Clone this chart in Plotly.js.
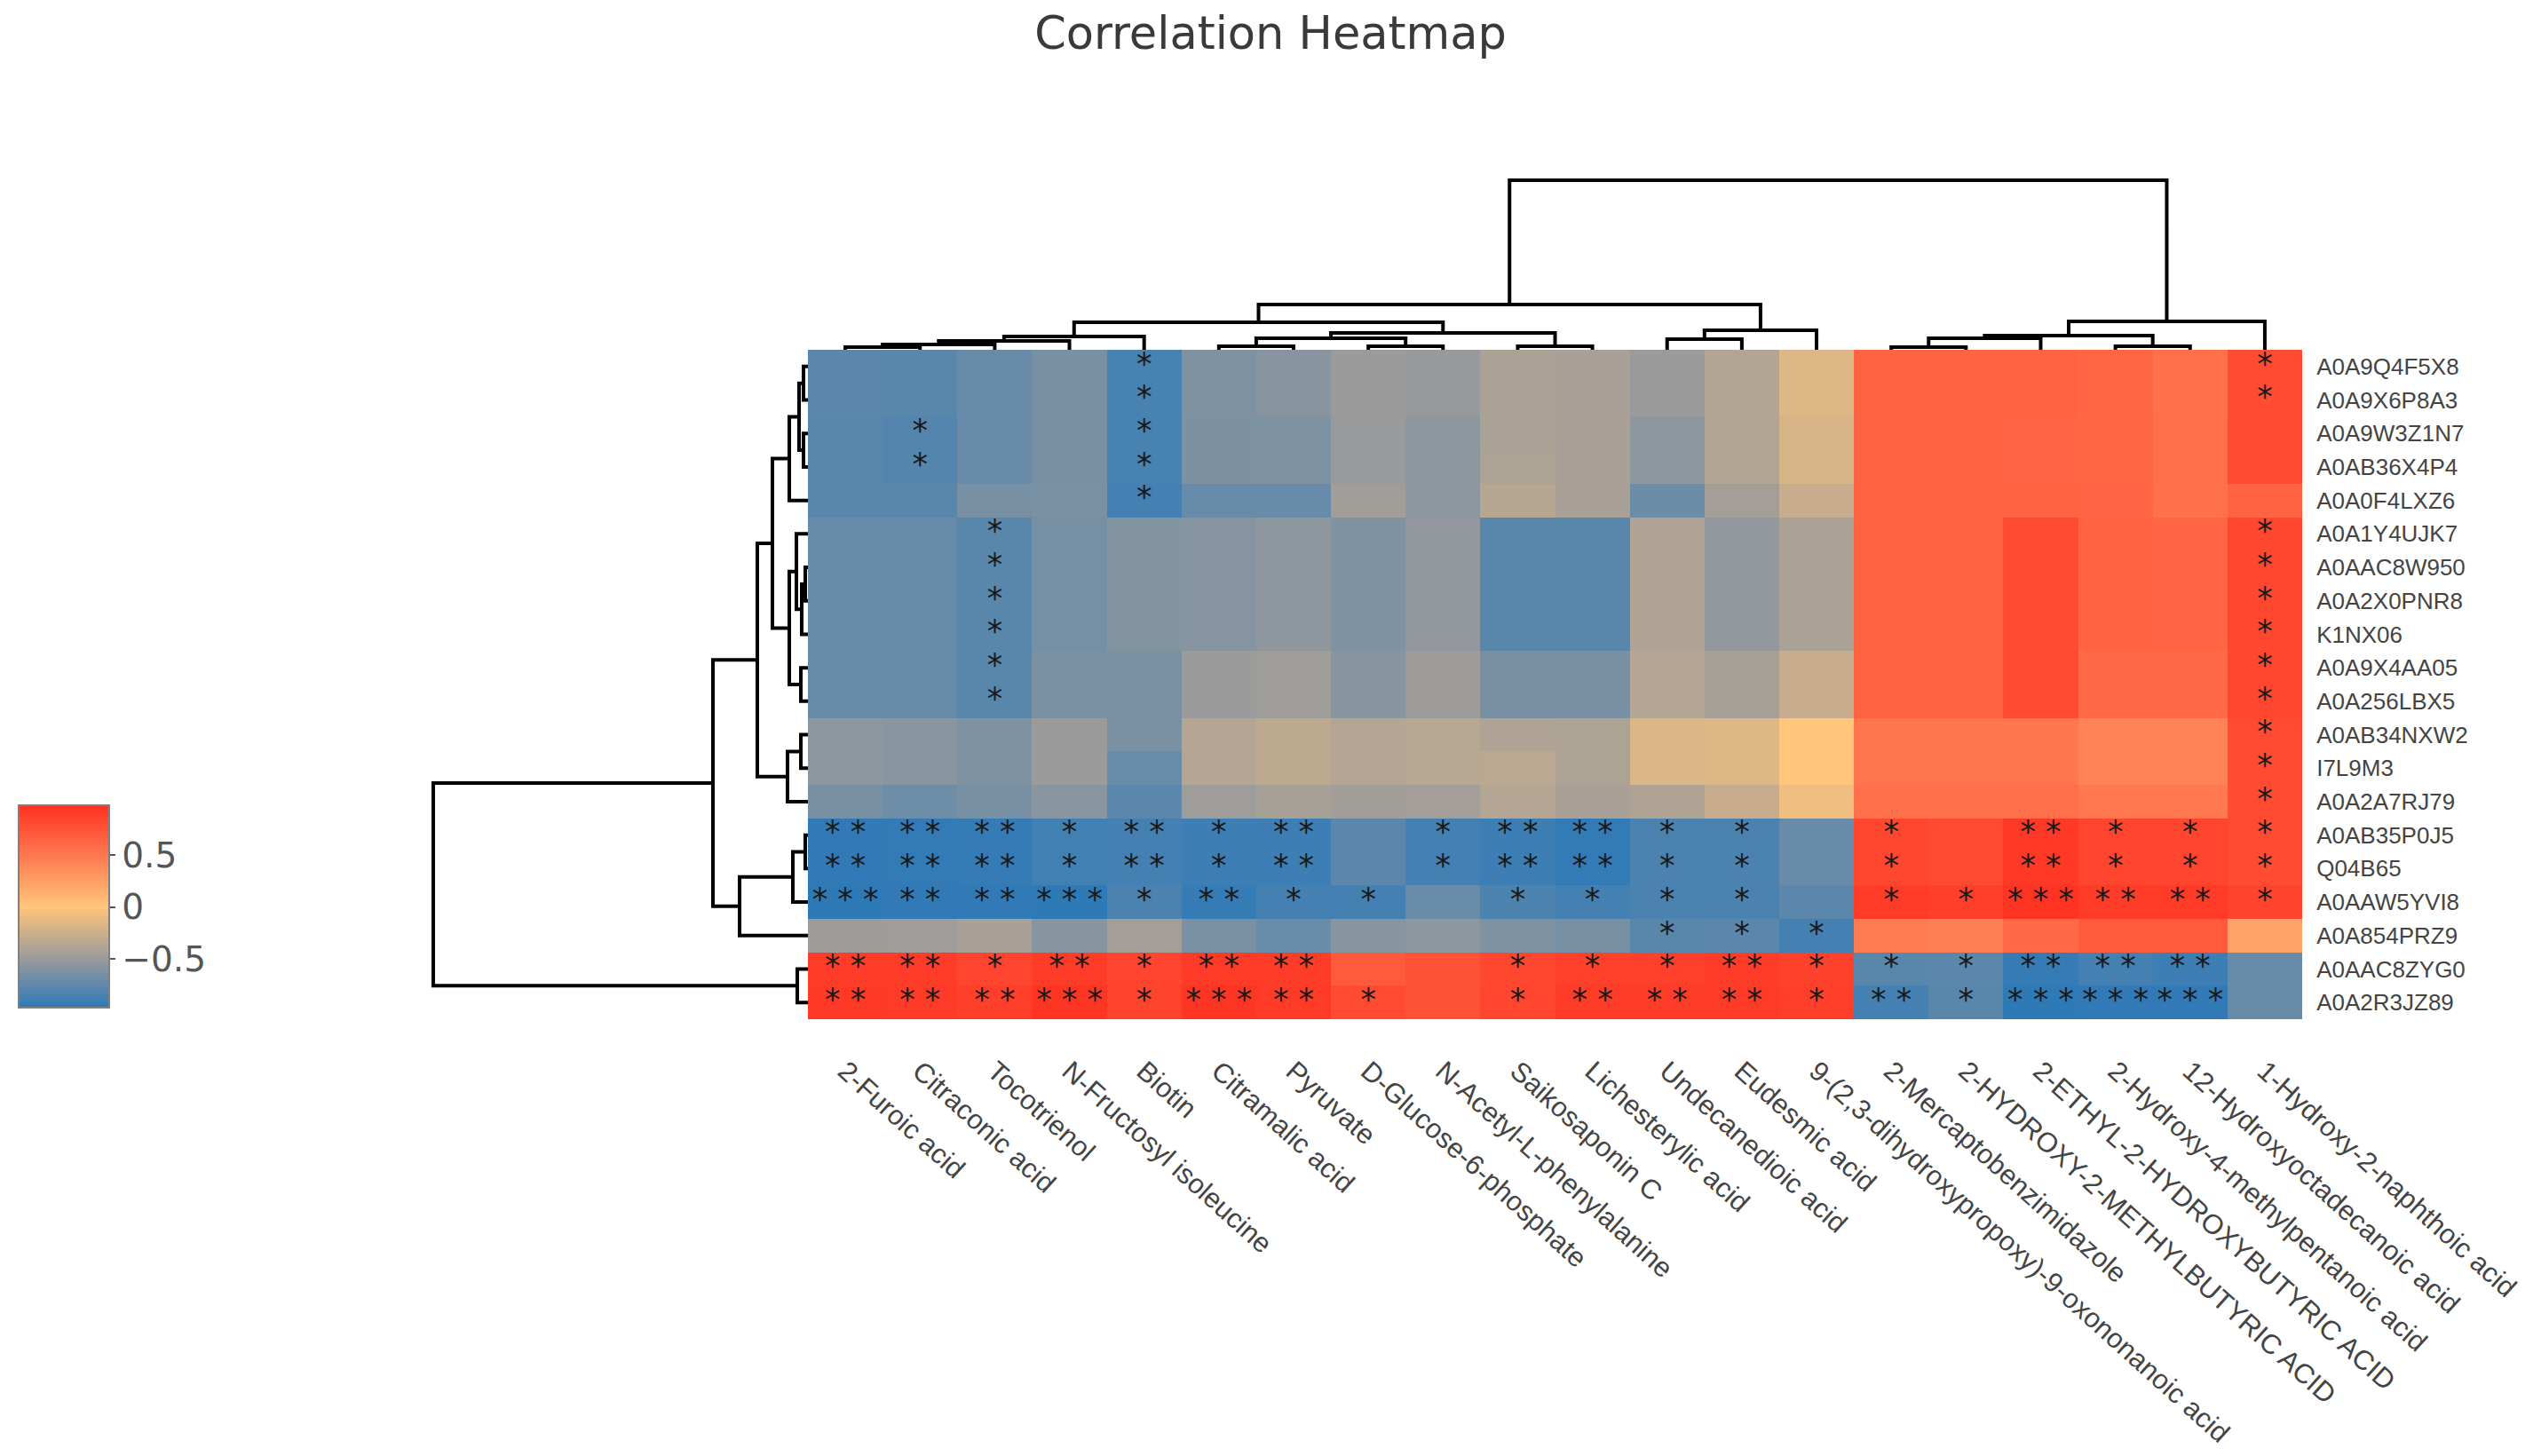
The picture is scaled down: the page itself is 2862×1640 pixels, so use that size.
<!DOCTYPE html>
<html>
<head>
<meta charset="utf-8">
<script src="https://cdn.plot.ly/plotly-3.0.1.min.js"></script>
<style>html,body{margin:0;padding:0;background:#fff;}#chart{width:2862px;height:1640px;}</style>
</head>
<body>
<div id="chart"></div>
<script>
// ---------- data ----------
const columns = ["2-Furoic acid","Citraconic acid","Tocotrienol","N-Fructosyl isoleucine","Biotin","Citramalic acid","Pyruvate","D-Glucose-6-phosphate","N-Acetyl-L-phenylalanine","Saikosaponin C","Lichesterylic acid","Undecanedioic acid","Eudesmic acid","9-(2,3-dihydroxypropoxy)-9-oxononanoic acid","2-Mercaptobenzimidazole","2-HYDROXY-2-METHYLBUTYRIC ACID","2-ETHYL-2-HYDROXYBUTYRIC ACID","2-Hydroxy-4-methylpentanoic acid","12-Hydroxyoctadecanoic acid","1-Hydroxy-2-naphthoic acid"];
const rows = ["A0A9Q4F5X8","A0A9X6P8A3","A0A9W3Z1N7","A0AB36X4P4","A0A0F4LXZ6","A0A1Y4UJK7","A0AAC8W950","A0A2X0PNR8","K1NX06","A0A9X4AA05","A0A256LBX5","A0AB34NXW2","I7L9M3","A0A2A7RJ79","A0AB35P0J5","Q04B65","A0AAW5YVI8","A0A854PRZ9","A0AAC8ZYG0","A0A2R3JZ89"];
const corr = [
 [-0.77,-0.78,-0.72,-0.65,-0.85,-0.62,-0.58,-0.50,-0.52,-0.42,-0.43,-0.50,-0.38,-0.17,0.64,0.64,0.64,0.62,0.55,0.80],
 [-0.77,-0.78,-0.72,-0.65,-0.85,-0.62,-0.58,-0.50,-0.52,-0.42,-0.43,-0.50,-0.38,-0.17,0.64,0.64,0.64,0.62,0.55,0.80],
 [-0.78,-0.80,-0.72,-0.65,-0.85,-0.63,-0.62,-0.51,-0.56,-0.42,-0.43,-0.56,-0.38,-0.20,0.64,0.64,0.63,0.62,0.56,0.80],
 [-0.78,-0.80,-0.72,-0.65,-0.85,-0.63,-0.62,-0.51,-0.56,-0.41,-0.43,-0.56,-0.38,-0.20,0.64,0.64,0.63,0.62,0.56,0.80],
 [-0.78,-0.78,-0.65,-0.64,-0.87,-0.72,-0.72,-0.47,-0.56,-0.36,-0.43,-0.70,-0.46,-0.28,0.64,0.64,0.64,0.63,0.55,0.64],
 [-0.72,-0.72,-0.78,-0.66,-0.60,-0.59,-0.55,-0.62,-0.54,-0.78,-0.78,-0.40,-0.54,-0.42,0.64,0.64,0.80,0.64,0.63,0.83],
 [-0.72,-0.72,-0.78,-0.66,-0.60,-0.59,-0.55,-0.62,-0.54,-0.78,-0.78,-0.40,-0.54,-0.42,0.64,0.64,0.80,0.64,0.63,0.83],
 [-0.72,-0.72,-0.78,-0.66,-0.60,-0.59,-0.55,-0.62,-0.54,-0.78,-0.78,-0.40,-0.54,-0.42,0.64,0.64,0.80,0.64,0.63,0.83],
 [-0.72,-0.72,-0.78,-0.66,-0.60,-0.59,-0.55,-0.62,-0.54,-0.78,-0.78,-0.40,-0.54,-0.42,0.64,0.64,0.80,0.64,0.63,0.83],
 [-0.72,-0.72,-0.78,-0.64,-0.64,-0.50,-0.48,-0.58,-0.49,-0.65,-0.65,-0.37,-0.44,-0.28,0.64,0.64,0.80,0.60,0.60,0.83],
 [-0.72,-0.72,-0.78,-0.64,-0.64,-0.50,-0.48,-0.58,-0.49,-0.65,-0.65,-0.37,-0.44,-0.28,0.64,0.64,0.80,0.60,0.60,0.83],
 [-0.56,-0.57,-0.62,-0.50,-0.64,-0.37,-0.33,-0.37,-0.35,-0.40,-0.41,-0.18,-0.17,0.00,0.52,0.52,0.52,0.43,0.43,0.80],
 [-0.56,-0.57,-0.62,-0.50,-0.71,-0.37,-0.33,-0.37,-0.35,-0.34,-0.41,-0.18,-0.17,0.00,0.52,0.52,0.52,0.43,0.43,0.80],
 [-0.65,-0.69,-0.65,-0.57,-0.77,-0.48,-0.44,-0.47,-0.46,-0.37,-0.43,-0.40,-0.28,-0.08,0.55,0.55,0.56,0.50,0.50,0.80],
 [-0.95,-0.94,-0.93,-0.88,-0.87,-0.90,-0.90,-0.77,-0.87,-0.90,-0.94,-0.84,-0.84,-0.72,0.83,0.80,0.92,0.84,0.84,0.80],
 [-0.95,-0.94,-0.93,-0.88,-0.87,-0.90,-0.90,-0.77,-0.87,-0.90,-0.94,-0.84,-0.84,-0.72,0.83,0.80,0.92,0.84,0.84,0.80],
 [-0.96,-0.95,-0.95,-0.96,-0.84,-0.93,-0.87,-0.87,-0.71,-0.83,-0.87,-0.84,-0.84,-0.77,0.90,0.88,0.96,0.90,0.91,0.85],
 [-0.49,-0.48,-0.43,-0.58,-0.46,-0.64,-0.71,-0.58,-0.56,-0.62,-0.65,-0.78,-0.77,-0.87,0.48,0.45,0.60,0.70,0.70,0.22],
 [0.90,0.90,0.84,0.90,0.84,0.91,0.90,0.70,0.76,0.83,0.87,0.87,0.90,0.86,-0.78,-0.77,-0.93,-0.87,-0.90,-0.72],
 [0.92,0.91,0.88,0.95,0.85,0.95,0.91,0.80,0.76,0.84,0.90,0.90,0.91,0.88,-0.87,-0.78,-0.96,-0.95,-0.95,-0.72]
];
// number of significance stars per cell
const stars = [
 [0,0,0,0,1,0,0,0,0,0,0,0,0,0,0,0,0,0,0,1],
 [0,0,0,0,1,0,0,0,0,0,0,0,0,0,0,0,0,0,0,1],
 [0,1,0,0,1,0,0,0,0,0,0,0,0,0,0,0,0,0,0,0],
 [0,1,0,0,1,0,0,0,0,0,0,0,0,0,0,0,0,0,0,0],
 [0,0,0,0,1,0,0,0,0,0,0,0,0,0,0,0,0,0,0,0],
 [0,0,1,0,0,0,0,0,0,0,0,0,0,0,0,0,0,0,0,1],
 [0,0,1,0,0,0,0,0,0,0,0,0,0,0,0,0,0,0,0,1],
 [0,0,1,0,0,0,0,0,0,0,0,0,0,0,0,0,0,0,0,1],
 [0,0,1,0,0,0,0,0,0,0,0,0,0,0,0,0,0,0,0,1],
 [0,0,1,0,0,0,0,0,0,0,0,0,0,0,0,0,0,0,0,1],
 [0,0,1,0,0,0,0,0,0,0,0,0,0,0,0,0,0,0,0,1],
 [0,0,0,0,0,0,0,0,0,0,0,0,0,0,0,0,0,0,0,1],
 [0,0,0,0,0,0,0,0,0,0,0,0,0,0,0,0,0,0,0,1],
 [0,0,0,0,0,0,0,0,0,0,0,0,0,0,0,0,0,0,0,1],
 [2,2,2,1,2,1,2,0,1,2,2,1,1,0,1,0,2,1,1,1],
 [2,2,2,1,2,1,2,0,1,2,2,1,1,0,1,0,2,1,1,1],
 [3,2,2,3,1,2,1,1,0,1,1,1,1,0,1,1,3,2,2,1],
 [0,0,0,0,0,0,0,0,0,0,0,1,1,1,0,0,0,0,0,0],
 [2,2,1,2,1,2,2,0,0,1,1,1,2,1,1,1,2,2,2,0],
 [2,2,2,3,1,3,2,1,0,1,2,2,2,1,2,1,3,3,3,0]
];
// hierarchical clustering merges: [childA, childB, height]; ids >= n are earlier merges
const colMerges = [
 [0,1,0.016],[20,2,0.031],[21,3,0.052],[22,4,0.079],
 [5,6,0.021],[7,8,0.021],[24,25,0.068],[9,10,0.021],[26,27,0.099],
 [23,28,0.162],[11,12,0.063],[30,13,0.115],[29,31,0.267],
 [14,15,0.016],[33,16,0.068],[17,18,0.021],[34,35,0.084],[36,19,0.168],
 [32,37,1.0]
];
const rowMerges = [
 [0,1,5],[2,3,5],[20,21,10],[22,4,21],
 [6,7,3],[24,8,7],[5,25,13],[9,10,8],[26,27,21],
 [23,28,40],[11,12,8],[30,13,23],[29,31,57],
 [14,15,3],[33,16,17],[34,17,77],[32,35,107],
 [18,19,12],[36,37,422]
];
const zMin = -0.97, zMax = 0.98;
const scaleStops = [-0.97,-0.5,0,0.5,0.98];
const scaleColors = ["#2C79B8","#9B9B9B","#FFC57B","#FF7850","#FF3020"];

// ---------- helpers ----------
function dendro(merges, n){
  const pos=[], ht=[], a=[], b=[];
  for(let i=0;i<n;i++){pos[i]=i;ht[i]=0;}
  merges.forEach((mg,k)=>{
    const [p,q,h]=mg, id=n+k;
    a.push(pos[p],pos[p],pos[q],pos[q],null);
    b.push(ht[p],h,h,ht[q],null);
    pos[id]=(pos[p]+pos[q])/2; ht[id]=h;
  });
  return {pos:a, h:b};
}
(function(){
const W=2862, H=1640;
const X=p=>p/W, Y=p=>1-p/H;
const hmL=910, hmR=2593, hmT=394, hmB=1148;

const nC=columns.length, nR=rows.length;
const idxC=[...Array(nC).keys()], idxR=[...Array(nR).keys()];
const colorscale = scaleStops.map((v,i)=>[(v-zMin)/(zMax-zMin), scaleColors[i]]);

const heat = {
  type:'heatmap', z:corr, x:idxC, y:idxR, zmin:zMin, zmax:zMax,
  colorscale:colorscale, xaxis:'x', yaxis:'y', hoverinfo:'skip',
  colorbar:{
    x:X(21), xanchor:'left', xpad:0, y:Y(1021), yanchor:'middle', ypad:0,
    thicknessmode:'pixels', thickness:102, lenmode:'pixels', len:228,
    outlinewidth:2, outlinecolor:'#808080',
    tickvals:[-0.5,0,0.5], ticks:'outside', ticklen:6, tickwidth:2, tickcolor:'#555',
    tickfont:{family:'DejaVu Sans', size:39, color:'#555'}
  }
};
const sx=[], sy=[], st=[];
stars.forEach((r,i)=>r.forEach((c,j)=>{ if(c>0){ sx.push(j); sy.push(i); st.push(Array(c).fill('*').join('\u00a0')); } }));
const sig = {type:'scatter', mode:'text', x:sx, y:sy, text:st, textposition:'middle center',
  textfont:{family:'DejaVu Sans', size:35, color:'#1a1a1a'}, xaxis:'x', yaxis:'y', hoverinfo:'skip', showlegend:false};

const dc = dendro(colMerges, nC);
const dTop = {type:'scatter', mode:'lines', x:dc.pos, y:dc.h, xaxis:'x2', yaxis:'y2',
  line:{color:'#000', width:4}, hoverinfo:'skip', showlegend:false, cliponaxis:false};
const dr = dendro(rowMerges, nR);
const dLeft = {type:'scatter', mode:'lines', x:dr.h, y:dr.pos, xaxis:'x3', yaxis:'y3',
  line:{color:'#000', width:4}, hoverinfo:'skip', showlegend:false, cliponaxis:false};

const rootC = colMerges[colMerges.length-1][2], rootR = rowMerges[rowMerges.length-1][2];
const topPx = 394-203, leftPx = 910-488;
const padF = 1.03;

const layout = {
  width:W, height:H, margin:{l:0,r:0,t:0,b:0},
  paper_bgcolor:'#fff', plot_bgcolor:'#fff', showlegend:false,
  title:{text:'Correlation Heatmap', x:0.5, xanchor:'center', y:Y(37), yanchor:'middle',
    font:{family:'DejaVu Sans', size:51, color:'#3a3a3a'}},
  xaxis:{domain:[X(hmL),X(hmR)], range:[-0.5,nC-0.5], tickvals:idxC, ticktext:columns,
    tickangle:42, ticks:'outside', ticklen:27, tickcolor:'rgba(0,0,0,0)',
    tickfont:{family:'Liberation Sans', size:31, color:'#444'},
    showgrid:false, zeroline:false, showline:false, anchor:'y', fixedrange:true},
  yaxis:{domain:[Y(hmB),Y(hmT)], range:[nR-0.5,-0.5], tickvals:idxR, ticktext:rows,
    side:'right', ticks:'outside', ticklen:10, tickcolor:'rgba(0,0,0,0)',
    tickfont:{family:'Liberation Sans', size:26, color:'#444'},
    showgrid:false, zeroline:false, showline:false, anchor:'x'},
  xaxis2:{domain:[X(hmL),X(hmR)], range:[-0.5,nC-0.5], visible:false, anchor:'y2'},
  yaxis2:{domain:[Y(hmT), Y(hmT-topPx*padF)], range:[0, rootC*padF], visible:false, anchor:'x2'},
  xaxis3:{domain:[X(hmL-leftPx*padF), X(hmL)], range:[rootR*padF, 0], visible:false, anchor:'y3'},
  yaxis3:{domain:[Y(hmB),Y(hmT)], range:[nR-0.5,-0.5], visible:false, anchor:'x3'}
};
Plotly.newPlot('chart',[heat,sig,dTop,dLeft],layout,{displayModeBar:false, staticPlot:true});
})();
</script>
</body>
</html>
